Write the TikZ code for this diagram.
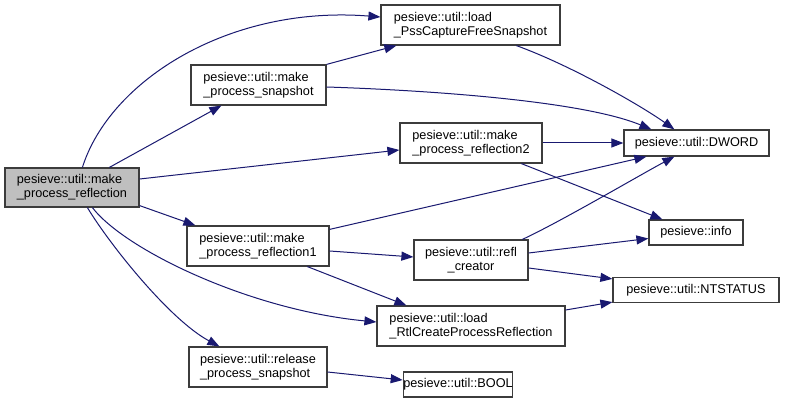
\documentclass[tikz,border=0pt]{standalone}
\usepackage{fontspec}
\setmainfont{Liberation Sans}
\usetikzlibrary{arrows.meta}
\definecolor{edgec}{RGB}{25,25,112}
\definecolor{boxc}{RGB}{60,60,60}
\definecolor{mainfill}{RGB}{191,191,191}
\begin{document}
\begin{tikzpicture}[x=1pt,y=-1pt,
  box/.style={draw=boxc, line width=1.2pt, fill=white, rectangle, inner sep=0pt,
    align=left, font=\fontsize{12.7}{13.6}\selectfont},
  e/.style={draw=edgec, line width=1pt, -{Triangle[length=12pt,width=9pt]}}]
\useasboundingbox (0,0) rectangle (785,403);
\fill[white] (0,0) rectangle (785,403);

\node[box, fill=mainfill, minimum width=134pt, minimum height=39pt] (main) at (72,187.5) {pesieve::util::make\\\_process\_reflection};
\node[box, minimum width=135pt, minimum height=40pt] (snap) at (258.5,85) {pesieve::util::make\\\_process\_snapshot};
\node[box, minimum width=179pt, minimum height=40pt] (pss) at (470.5,25) {pesieve::util::load\\\_PssCaptureFreeSnapshot};
\node[box, minimum width=142pt, minimum height=40pt] (r2) at (471,143) {pesieve::util::make\\\_process\_reflection2};
\node[box, minimum width=145pt, minimum height=26pt] (dword) at (696.5,143) {pesieve::util::DWORD};
\node[box, minimum width=94pt, minimum height=25pt] (info) at (696,232.5) {pesieve::info};
\node[box, align=center, minimum width=114pt, minimum height=40pt] (refl) at (471,260) {pesieve::util::refl\\\_creator};
\node[box, minimum width=166pt, minimum height=25pt] (nts) at (696,290) {pesieve::util::NTSTATUS};
\node[box, minimum width=188pt, minimum height=40pt] (rtl) at (471,326) {pesieve::util::load\\\_RtlCreateProcessReflection};
\node[box, minimum width=142pt, minimum height=40pt] (r1) at (258,246) {pesieve::util::make\\\_process\_reflection1};
\node[box, minimum width=138pt, minimum height=40pt] (rel) at (258,367) {pesieve::util::release\\\_process\_snapshot};
\node[box, minimum width=108pt, minimum height=25pt] (bool) at (458,384.5) {pesieve::util::BOOL};

\draw[e] ([xshift=78pt]main.north west) .. controls (110,80) and (230,5) .. ([yshift=8pt]pss.west);
\draw[e] ([xshift=105pt]main.north west) -- ([xshift=31pt]snap.south west);
\draw[e] ([yshift=8.5pt]main.east) -- ([yshift=-7pt]r2.west);
\draw[e] ([yshift=2pt]main.south east) -- ([xshift=9pt]r1.north west);
\draw[e] ([xshift=88pt]main.south west) .. controls (125,250) and (250,310) .. ([yshift=4pt]rtl.west);
\draw[e] ([xshift=83pt]main.south west) .. controls (110,245) and (170,320) .. ([xshift=31pt]rel.north west);
\draw[e] (snap.north east) -- ([xshift=16pt]pss.south west);
\draw[e] ([yshift=-2pt]snap.east) .. controls (420,90) and (580,100) .. ([xshift=28pt]dword.north west);
\draw[e] ([xshift=136pt]pss.south west) .. controls (570,65) and (640,105) .. ([xshift=51pt]dword.north west);
\draw[e] (r2) -- (dword);
\draw[e] ([xshift=122pt]r2.south west) -- ([xshift=14pt]info.north west);
\draw[e] ([yshift=-4pt]r1.north east) -- ([xshift=23pt]dword.south west);
\draw[e] ([yshift=-5pt]r1.east) -- ([yshift=3pt]refl.west);
\draw[e] ([xshift=121pt]r1.south west) -- ([xshift=30pt]rtl.north west);
\draw[e] ([xshift=109pt]refl.north west) .. controls (560,222) and (640,175) .. ([xshift=51pt]dword.south west);
\draw[e] ([yshift=7pt]refl.east) -- ([yshift=-6pt]info.west);
\draw[e] ([yshift=-8pt]refl.east) -- ([yshift=-2pt]nts.north west);
\draw[e] ([yshift=16pt]rtl.east) -- ([yshift=1pt]nts.south west);
\draw[e] ([yshift=-5pt]rel.east) -- ([yshift=4.5pt]bool.west);
\end{tikzpicture}
\end{document}
